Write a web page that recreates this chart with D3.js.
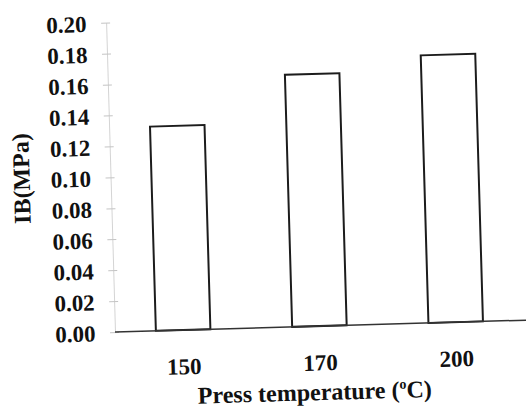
<!DOCTYPE html>
<html>
<head>
<meta charset="utf-8">
<script src="https://cdn.jsdelivr.net/npm/d3@7"></script>
<style>
  html, body { margin: 0; padding: 0; background: #fff; }
  svg { display: block; }
  svg text { font-family: "Liberation Serif", "Times New Roman", Times, "DejaVu Serif", serif !important; font-weight: bold; fill: #111; }
</style>
</head>
<body>
<svg id="chart" width="526" height="410"></svg>
<script>
// Internal bond strength by press temperature
const categories = ["150", "170", "200"];
const ibValues = [0.132, 0.163, 0.173];
const yTicks = [0.00, 0.02, 0.04, 0.06, 0.08, 0.10, 0.12, 0.14, 0.16, 0.18, 0.20];

const serif = "'Liberation Serif', 'Times New Roman', Times, 'DejaVu Serif', serif";
const originX = 115, originY = 332;
const svg = d3.select("#chart");

// whole figure sits slightly tilted on the page
const g = svg.append("g")
  .attr("transform", `rotate(-1.65, ${originX}, ${originY})`);

const x = d3.scaleBand()
  .domain(categories)
  .range([originX, 524])
  .paddingInner(0.6)
  .paddingOuter(0.3);

const y = d3.scaleLinear()
  .domain([0, 0.2])
  .range([originY, 22.5]);

// y axis: faint line and ticks, bold labels
const yAxis = g.append("g")
  .attr("transform", `translate(${originX},0)`)
  .call(d3.axisLeft(y).tickValues(yTicks).tickFormat(d3.format(".2f")).tickSize(0).tickPadding(19.5));
yAxis.attr("font-family", serif).attr("font-size", 23);
yAxis.select(".domain").attr("stroke", "#d4d4d4").attr("stroke-width", 1);
yAxis.selectAll(".tick line")
  .attr("x1", -5).attr("x2", 4)
  .attr("stroke", "#c4c4c4").attr("stroke-width", 1);
yAxis.selectAll(".tick text")
  .attr("font-family", serif)
  .attr("font-weight", "bold")
  .attr("font-size", 23)
  .attr("fill", "#111")
  .attr("dy", "0.36em");

// bars
g.selectAll("rect.bar")
  .data(categories)
  .join("rect")
  .attr("class", "bar")
  .attr("x", d => x(d))
  .attr("width", x.bandwidth())
  .attr("y", (d, i) => y(ibValues[i]))
  .attr("height", (d, i) => y(0) - y(ibValues[i]))
  .attr("fill", "#fff")
  .attr("stroke", "#1c1c1c")
  .attr("stroke-width", 2);

// baseline
g.append("line")
  .attr("x1", originX).attr("x2", 540)
  .attr("y1", y(0)).attr("y2", y(0))
  .attr("stroke", "#333").attr("stroke-width", 1.5);

// category labels
const xAxis = g.append("g")
  .attr("transform", `translate(0,${originY})`)
  .call(d3.axisBottom(x).tickSize(0).tickPadding(28));
xAxis.attr("font-family", serif).attr("font-size", 23);
xAxis.select(".domain").remove();
xAxis.selectAll(".tick text")
  .attr("font-family", serif)
  .attr("font-weight", "bold")
  .attr("font-size", 23)
  .attr("fill", "#111")
  .attr("dy", "0.71em");

// axis titles
const xt = g.append("text")
  .attr("x", 313).attr("y", 406)
  .attr("text-anchor", "middle")
  .attr("font-family", serif)
  .attr("font-size", 24);
xt.append("tspan").text("Press temperature (");
xt.append("tspan").attr("dy", -9).attr("font-size", 14).text("o");
xt.append("tspan").attr("dy", 9).text("C)");

g.append("text")
  .attr("transform", "translate(34,176) rotate(-90)")
  .attr("text-anchor", "middle")
  .attr("font-family", serif)
  .attr("font-size", 24)
  .text("IB(MPa)");
</script>
</body>
</html>
